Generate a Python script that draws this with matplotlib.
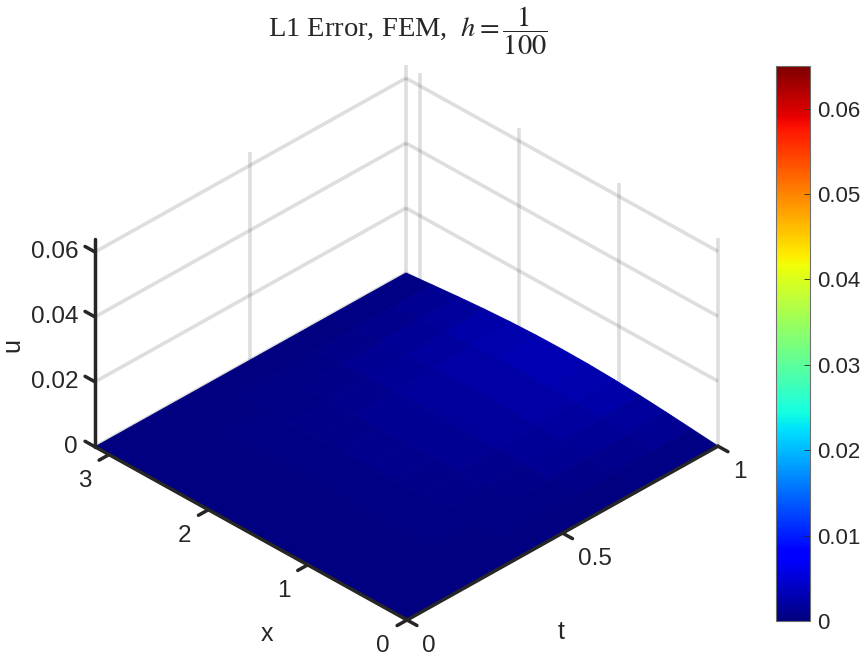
import numpy as np
import matplotlib
matplotlib.use("Agg")
import matplotlib.pyplot as plt
from matplotlib.cm import ScalarMappable
from matplotlib.colors import Normalize
from mpl_toolkits.mplot3d import proj3d

plt.rcParams["font.family"] = ["Liberation Sans", "DejaVu Sans"]
plt.rcParams["mathtext.fontset"] = "stix"

# surface values (rows are t, columns are x)
t_nodes = [0.0, 0.125, 0.25, 0.375, 0.5, 0.625, 0.75, 0.875, 1.0]
x_nodes = [0.0, 0.2618, 0.5236, 0.7854, 1.0472, 1.309, 1.5708, 1.8326, 2.0944, 2.3562, 2.618, 2.8798, 3.1416]
u_error = [
    [0, 0, 0, 0, 0, 0, 0, 0, 0, 0, 0, 0, 0],
    [0, .00003, .00005, .00007, .00009, .0001, .0001, .0001, .00009, .00007, .00005, .00003, 0],
    [0, .00008, .00015, .00021, .00026, .00029, .0003, .00029, .00026, .00021, .00015, .00008, 0],
    [0, .00016, .0003, .00043, .00052, .00058, .0006, .00058, .00052, .00043, .0003, .00016, 0],
    [0, .00026, .0005, .00071, .00087, .00097, .001, .00097, .00087, .00071, .0005, .00026, 0],
    [0, .00039, .00075, .00106, .0013, .00145, .0015, .00145, .0013, .00106, .00075, .00039, 0],
    [0, .00052, .001, .00142, .00174, .00194, .002, .00194, .00174, .00142, .001, .00052, 0],
    [0, .00068, .0013, .00185, .00226, .00252, .0026, .00252, .00226, .00185, .0013, .00068, 0],
    [0, .00083, .0016, .00227, .00278, .0031, .0032, .0031, .00278, .00227, .0016, .00083, 0],
]

t_ticks = [0, 0.5, 1]
t_tick_labels = ["0", "0.5", "1"]
x_ticks = [0, 1, 2, 3]
x_tick_labels = ["0", "1", "2", "3"]
u_ticks = [0, 0.02, 0.04, 0.06]
u_tick_labels = ["0", "0.02", "0.04", "0.06"]
cbar_ticks = [0, 0.01, 0.02, 0.03, 0.04, 0.05, 0.06]
cbar_tick_labels = ["0", "0.01", "0.02", "0.03", "0.04", "0.05", "0.06"]

t_max = 1.0
x_max = 3.1416
u_max = 0.064
c_max = 0.065
dark = "#262626"
W, H = 865, 657


def project(ax, t, x, u):
    px, py, _ = proj3d.proj_transform(t, x, u, ax.get_proj())
    return ax.transData.transform((px, py))


def label(ax, t, x, u, off_x, off_y, text, **kw):
    # text next to a 3d point, offset in pixels (y goes down)
    px, py = project(ax, t, x, u)
    fig.text((px + off_x) / W, (py - off_y) / H, text, color=dark, va="center", **kw)


fig = plt.figure(figsize=(W / 100, H / 100), dpi=100)

# big square axes, the floor gets fitted to its place further down
ax = fig.add_axes([(W - 1000) / 2 / W, (H - 1000) / 2 / H, 1000 / W, 1000 / H],
                  projection="3d", proj_type="ortho")
ax.computed_zorder = False
ax.set_axis_off()
ax.view_init(elev=33.85, azim=-135.1)
ax.set_xlim(0, t_max, view_margin=0)
ax.set_ylim(0, x_max, view_margin=0)
ax.set_zlim(0, u_max, view_margin=0)
ax.set_xticks([])
ax.set_yticks([])
ax.set_zticks([])

aspect = (1, 1, 0.568)
ax.set_box_aspect(aspect, zoom=1.0)
ax.apply_aspect()
left = project(ax, 0, x_max, 0)
right = project(ax, t_max, 0, 0)
ax.set_box_aspect(aspect, zoom=(718 - 95) / (right[0] - left[0]))
ax.apply_aspect()

# shift so that the near corner sits where it does in the reference
near = project(ax, 0, 0, 0)
left = project(ax, 0, x_max, 0)
right = project(ax, t_max, 0, 0)
dx = (95 + 718) / 2 - (left[0] + right[0]) / 2
dy = (H - 620) - near[1]
pos = ax.get_position()
ax.set_position([pos.x0 + dx / W, pos.y0 + dy / H, pos.width, pos.height])
ax.apply_aspect()

# grid on the two back walls
grid = dict(color=dark, alpha=0.15, lw=2.6, zorder=1, clip_on=False, solid_capstyle="butt")
for u in u_ticks:
    ax.plot([0, t_max], [x_max, x_max], [u, u], **grid)
    ax.plot([t_max, t_max], [x_max, 0], [u, u], **grid)
for t in [0.5, 1]:
    ax.plot([t, t], [x_max, x_max], [0, u_max], **grid)
for x in [0, 1, 2, 3]:
    ax.plot([t_max, t_max], [x, x], [0, u_max], **grid)

# facet colours by hand so the edges take the same colour as the faces
U = np.array(u_error)
T, X = np.meshgrid(t_nodes, x_nodes, indexing="ij")
facet = (U[:-1, :-1] + U[1:, :-1] + U[:-1, 1:] + U[1:, 1:]) / 4
colors = plt.get_cmap("jet")(Normalize(0, c_max)(facet))
ax.plot_surface(T, X, U, facecolors=colors, rstride=1, cstride=1, linewidth=0.6,
                antialiased=True, shade=False, zorder=2)

# axis lines and ticks
line = dict(color=dark, lw=2.5, zorder=3, clip_on=False, solid_capstyle="round")
ax.plot([0, t_max], [0, 0], [0, 0], **line)
ax.plot([0, 0], [0, x_max], [0, 0], **line)
ax.plot([0, 0], [x_max, x_max], [0, u_max], **line)

tick_x = 0.1
tick_t = 0.032
for t, text in zip(t_ticks, t_tick_labels):
    ax.plot([t, t], [0, -tick_x], [0, 0], **line)
    label(ax, t, 0, 0, 15, 26, text, fontsize=17.5, ha="left")
for x, text in zip(x_ticks, x_tick_labels):
    ax.plot([0, -tick_t], [x, x], [0, 0], **line)
    label(ax, 0, x, 0, -24, 26, text, fontsize=17.5, ha="center")
for u, text in zip(u_ticks, u_tick_labels):
    ax.plot([0, 0], [x_max, x_max + tick_x], [u, u], **line)
    label(ax, 0, x_max, u, -17, 0, text, fontsize=17.5, ha="right")

label(ax, 0, 0, 0, -140, 14, "x", fontsize=18, ha="center")
label(ax, 0, 0, 0, 154, 12, "t", fontsize=18, ha="center")
label(ax, 0, x_max, 0.0314, -83, 0, "u", fontsize=18, ha="center", rotation=90)

fig.text(407.5 / W, 1 - 37 / H, r"L1 Error, FEM, $\ h=\dfrac{1}{100}$", fontsize=20.5, color=dark,
         family="Liberation Serif", ha="center", va="baseline")

# colorbar
cax = fig.add_axes([776 / W, 1 - 621 / H, 34 / W, 555 / H])
cbar = fig.colorbar(ScalarMappable(Normalize(0, c_max), cmap="jet"), cax=cax)
cbar.set_ticks(cbar_ticks, labels=cbar_tick_labels)
cbar.ax.tick_params(direction="in", length=4.5, width=0.6, color=dark, labelcolor=dark,
                    labelsize=16, pad=5)
cbar.outline.set_edgecolor("#6e6e6e")
cbar.outline.set_linewidth(0.8)

fig.savefig("out.png", dpi=100)
